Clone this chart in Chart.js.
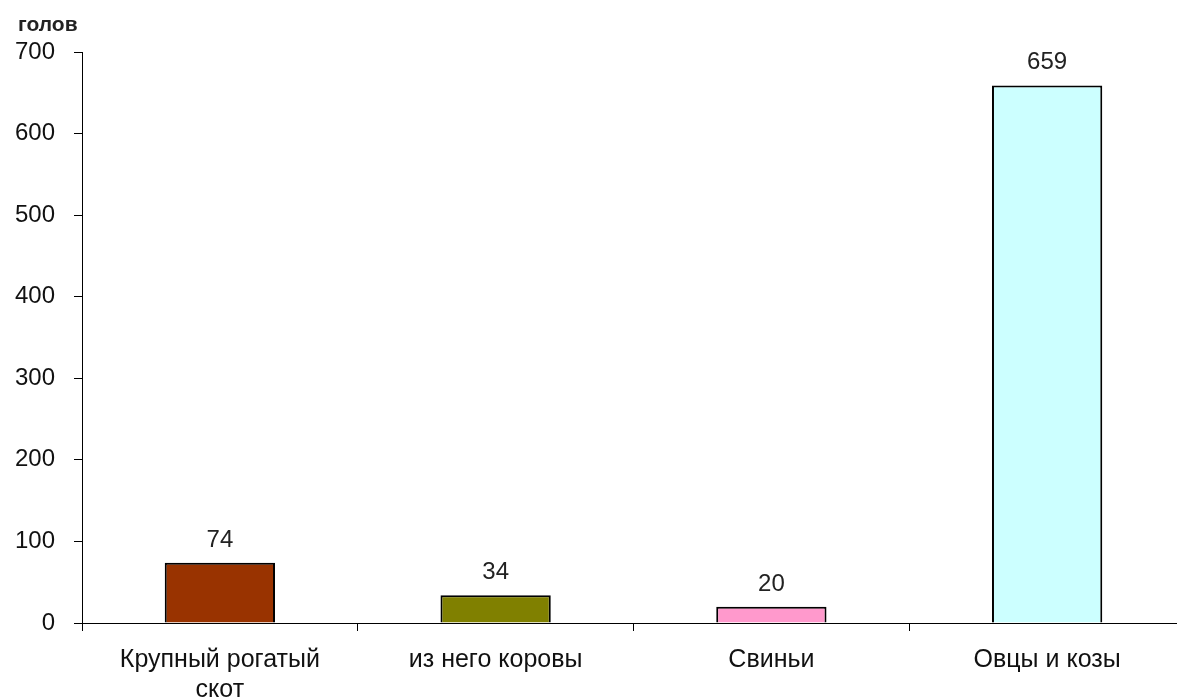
<!DOCTYPE html>
<html>
<head>
<meta charset="utf-8">
<script src="https://cdn.jsdelivr.net/npm/chart.js@4"></script>
<style>
  html, body { margin: 0; padding: 0; background: #fff; overflow: hidden; }
  #wrap { width: 1185px; height: 698px; }
</style>
</head>
<body>
<div id="wrap"><canvas id="livestockChart"></canvas></div>
<script>
const categories = [['Крупный рогатый', 'скот'], 'из него коровы', 'Свиньи', 'Овцы и козы'];
const heads = [74, 34, 20, 659];
const barColors = ['#993300', '#808000', '#FF99CC', '#CCFFFF'];
const yTicks = [0, 100, 200, 300, 400, 500, 600, 700];
const unitLabel = 'голов';

const FONT = '"Liberation Sans", Arial, sans-serif';

// value labels above bars + unit caption at the top left
const labelsPlugin = {
    id: 'labels',
    afterDatasetsDraw(chart) {
        const ctx = chart.ctx;
        const meta = chart.getDatasetMeta(0);
        ctx.save();
        ctx.fillStyle = '#222';
        ctx.font = '24px ' + FONT;
        ctx.textAlign = 'center';
        ctx.textBaseline = 'alphabetic';
        meta.data.forEach((bar, i) => {
            ctx.fillText(heads[i], bar.x, bar.y - 16);
        });
        ctx.font = 'bold 21px ' + FONT;
        ctx.textAlign = 'left';
        ctx.fillText(unitLabel, 18, 31);
        ctx.restore();
    }
};

new Chart(document.getElementById('livestockChart').getContext('2d'), {
    type: 'bar',
    data: {
        labels: categories,
        datasets: [{
            data: heads,
            backgroundColor: barColors,
            borderColor: '#000',
            borderWidth: 2,
            borderSkipped: 'bottom',
            barPercentage: 0.4,
            categoryPercentage: 1.0
        }]
    },
    options: {
        responsive: true,
        maintainAspectRatio: false,
        animation: false,
        layout: { padding: { top: 52, right: 0, left: 0, bottom: 0 } },
        plugins: {
            legend: { display: false },
            tooltip: { enabled: false }
        },
        scales: {
            x: {
                grid: { display: true, drawOnChartArea: false, tickLength: 8, color: '#000', offset: true },
                border: { color: '#000', width: 1 },
                ticks: { color: '#111', font: { family: FONT, size: 25 }, padding: 14, maxRotation: 0, autoSkip: false },
                afterFit(scale) { scale.height = 75; }
            },
            y: {
                min: 0,
                max: 700,
                afterBuildTicks(scale) { scale.ticks = yTicks.map(v => ({ value: v })); },
                grid: { display: true, drawOnChartArea: false, tickLength: 8, color: '#000' },
                border: { color: '#000', width: 1 },
                ticks: { color: '#111', font: { family: FONT, size: 24 }, padding: 19 },
                afterFit(scale) { scale.width = 82; }
            }
        }
    },
    plugins: [labelsPlugin]
});
</script>
</body>
</html>
